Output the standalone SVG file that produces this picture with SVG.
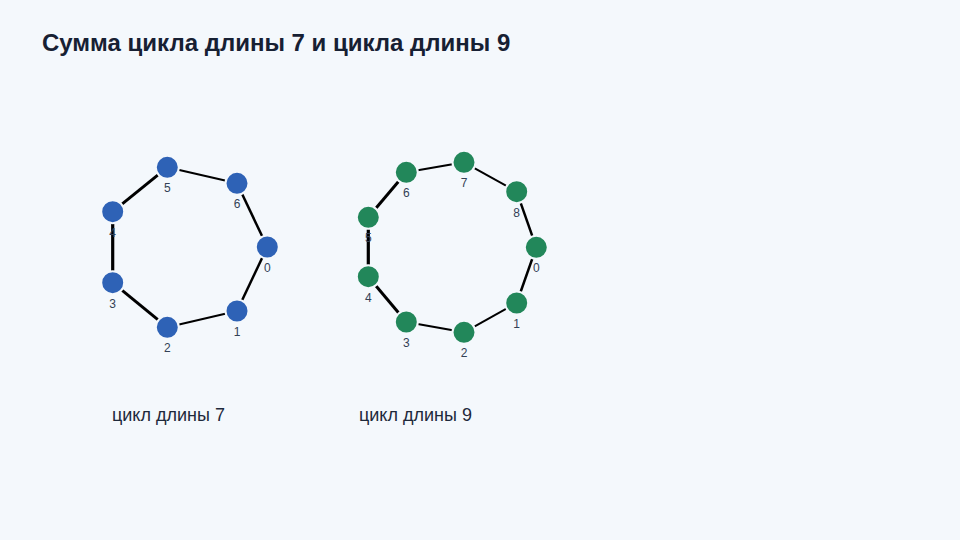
<svg xmlns="http://www.w3.org/2000/svg" width="960" height="540" viewBox="0 0 960 540">
<style>
.title{font-family:"Liberation Sans",Arial,sans-serif;font-weight:bold;font-size:24px;fill:#172033}
.cap{font-family:"Liberation Sans",Arial,sans-serif;font-size:18px;fill:#1e293b}
.lbl{font-family:"Liberation Sans",Arial,sans-serif;font-size:12px;fill:#334155;text-anchor:middle}
.e{stroke:#000;stroke-linecap:butt}
.b{fill:#2e62b6;stroke:#f4f8fc;stroke-width:2}
.g{fill:#22875a;stroke:#f4f8fc;stroke-width:2}
</style>
<rect width="960" height="540" fill="#f4f8fc"/>
<text class="title" x="42" y="51">Сумма цикла длины 7 и цикла длины 9</text>
<g id="connectors">
<line class="e" x1="267.3" y1="247" x2="237" y2="311" stroke-width="2.5"/>
<line class="e" x1="237" y1="311" x2="167.3" y2="327.3" stroke-width="2"/>
<line class="e" x1="167.3" y1="327.3" x2="112.7" y2="282.7" stroke-width="3"/>
<line class="e" x1="112.7" y1="282.7" x2="112.7" y2="211.7" stroke-width="3.2"/>
<line class="e" x1="112.7" y1="211.7" x2="167.3" y2="167.3" stroke-width="3"/>
<line class="e" x1="167.3" y1="167.3" x2="237" y2="183.3" stroke-width="2"/>
<line class="e" x1="237" y1="183.3" x2="267.3" y2="247" stroke-width="2.5"/>
<line class="e" x1="536.3" y1="247.3" x2="516.7" y2="303" stroke-width="2.5"/>
<line class="e" x1="516.7" y1="303" x2="464" y2="332.3" stroke-width="2"/>
<line class="e" x1="464" y1="332.3" x2="406.3" y2="322" stroke-width="2"/>
<line class="e" x1="406.3" y1="322" x2="368.3" y2="276.7" stroke-width="3"/>
<line class="e" x1="368.3" y1="276.7" x2="368.3" y2="217.3" stroke-width="3.2"/>
<line class="e" x1="368.3" y1="217.3" x2="406.3" y2="172.3" stroke-width="3"/>
<line class="e" x1="406.3" y1="172.3" x2="464" y2="162.3" stroke-width="2"/>
<line class="e" x1="464" y1="162.3" x2="516.7" y2="191.7" stroke-width="2"/>
<line class="e" x1="516.7" y1="191.7" x2="536.3" y2="247.3" stroke-width="2.5"/>
</g>
<g id="a0"><circle class="b" cx="267.3" cy="247" r="11.5"/><text class="lbl" x="267.3" y="272">0</text></g>
<g id="a1"><circle class="b" cx="237" cy="311" r="11.5"/><text class="lbl" x="237" y="336">1</text></g>
<g id="a2"><circle class="b" cx="167.3" cy="327.3" r="11.5"/><text class="lbl" x="167.3" y="352.3">2</text></g>
<g id="a3"><circle class="b" cx="112.7" cy="282.7" r="11.5"/><text class="lbl" x="112.7" y="307.7">3</text></g>
<g id="a4"><circle class="b" cx="112.7" cy="211.7" r="11.5"/><text class="lbl" x="112.7" y="236.7">4</text></g>
<g id="a5"><circle class="b" cx="167.3" cy="167.3" r="11.5"/><text class="lbl" x="167.3" y="192.3">5</text></g>
<g id="a6"><circle class="b" cx="237" cy="183.3" r="11.5"/><text class="lbl" x="237" y="208.3">6</text></g>
<g id="b0"><circle class="g" cx="536.3" cy="247.3" r="11.5"/><text class="lbl" x="536.3" y="272.3">0</text></g>
<g id="b1"><circle class="g" cx="516.7" cy="303" r="11.5"/><text class="lbl" x="516.7" y="328">1</text></g>
<g id="b2"><circle class="g" cx="464" cy="332.3" r="11.5"/><text class="lbl" x="464" y="357.3">2</text></g>
<g id="b3"><circle class="g" cx="406.3" cy="322" r="11.5"/><text class="lbl" x="406.3" y="347">3</text></g>
<g id="b4"><circle class="g" cx="368.3" cy="276.7" r="11.5"/><text class="lbl" x="368.3" y="301.7">4</text></g>
<g id="b5"><circle class="g" cx="368.3" cy="217.3" r="11.5"/><text class="lbl" x="368.3" y="242.3">5</text></g>
<g id="b6"><circle class="g" cx="406.3" cy="172.3" r="11.5"/><text class="lbl" x="406.3" y="197.3">6</text></g>
<g id="b7"><circle class="g" cx="464" cy="162.3" r="11.5"/><text class="lbl" x="464" y="187.3">7</text></g>
<g id="b8"><circle class="g" cx="516.7" cy="191.7" r="11.5"/><text class="lbl" x="516.7" y="216.7">8</text></g>
<text class="cap" x="112" y="421">цикл длины 7</text>
<text class="cap" x="359" y="421">цикл длины 9</text>
</svg>
